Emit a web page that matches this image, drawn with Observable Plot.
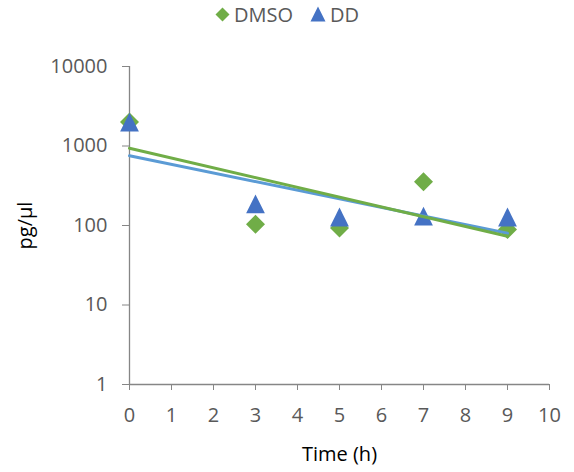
<!DOCTYPE html>
<html><head><meta charset="utf-8">
<script src="https://cdn.jsdelivr.net/npm/d3@7"></script>
<script src="https://cdn.jsdelivr.net/npm/@observablehq/plot@0.6"></script>
<style>
body{margin:0;background:#fff;font-family:"Open Sans",sans-serif;}
#legend{height:28px;display:flex;justify-content:center;align-items:center;gap:17px;font-size:20px;color:#595959;}
.item{display:flex;align-items:center;gap:4px;}
.item svg{display:block;}
</style></head><body>
<div id="legend"></div>
<div id="chart"></div>
<script>
// ---- data ----
const times = [0, 3, 5, 7, 9];
const dmso = [2000, 104, 93, 354, 89];
const dd = [2000, 187, 128, 131, 128];
const seriesNames = ["DMSO", "DD"];
const xTicks = [0, 1, 2, 3, 4, 5, 6, 7, 8, 9, 10];
const yTicks = [1, 10, 100, 1000, 10000];
const markerColors = {DMSO: "#70AD47", DD: "#4472C4"};
const trendColors = {DMSO: "#5B9BD5", DD: "#70AD47"}; // as drawn in the reference

// ---- tables ----
const points = [
  ...times.map((t, i) => ({series: "DMSO", t, v: dmso[i]})),
  ...times.map((t, i) => ({series: "DD", t, v: dd[i]}))
];

// exponential trendline (least squares on ln y)
function expFit(xs, ys) {
  const ly = ys.map(Math.log);
  const mx = d3.mean(xs), my = d3.mean(ly);
  const sxy = d3.sum(xs, (x, i) => (x - mx) * (ly[i] - my));
  const sxx = d3.sum(xs, x => (x - mx) ** 2);
  const b = sxy / sxx, a = my - b * mx;
  return x => Math.exp(a + b * x);
}
const ext = d3.extent(times);
const fitDMSO = expFit(times, dmso), fitDD = expFit(times, dd);
const trendDMSO = ext.map(t => ({t, v: fitDMSO(t)}));
const trendDD = ext.map(t => ({t, v: fitDD(t)}));

// Excel-like symbols (bounding box centred)
const diamondSym = {draw(ctx, size) {const r = Math.sqrt(size / Math.PI); ctx.moveTo(0, -r); ctx.lineTo(r, 0); ctx.lineTo(0, r); ctx.lineTo(-r, 0); ctx.closePath();}};
const triangleSym = {draw(ctx, size) {const r = Math.sqrt(size / Math.PI); ctx.moveTo(0, -r); ctx.lineTo(r, r); ctx.lineTo(-r, r); ctx.closePath();}};

// ---- legend ----
const legend = document.getElementById("legend");
legend.innerHTML = `
<div class="item"><svg width="15" height="15" viewBox="-7.5 -7.5 15 15"><path d="M0,-7L7,0L0,7L-7,0Z" fill="${markerColors.DMSO}"/></svg><span>${seriesNames[0]}</span></div>
<div class="item"><svg width="16" height="16" viewBox="-8 -8 16 16"><path d="M0,-7.5L7.5,7.5L-7.5,7.5Z" fill="${markerColors.DD}"/></svg><span>${seriesNames[1]}</span></div>`;

// ---- chart ----
const axisGray = "#868686", textGray = "#595959";
const chart = Plot.plot({
  width: 574,
  height: 444,
  marginLeft: 129,
  marginRight: 25,
  marginTop: 38,
  marginBottom: 88,
  style: {fontFamily: "'Open Sans', sans-serif", fontSize: "20px", background: "#fff", overflow: "visible"},
  x: {domain: [0, 10]},
  y: {type: "log", domain: [1, 10000]},
  marks: [
    Plot.axisX({ticks: xTicks, tickSize: 6, tickPadding: 17, stroke: axisGray, fill: textGray, label: null, tickFormat: d => String(d)}),
    Plot.axisY({ticks: yTicks, tickSize: 7, tickPadding: 15, stroke: axisGray, fill: textGray, label: null, tickFormat: d => String(d)}),
    Plot.ruleX([0], {stroke: axisGray, strokeWidth: 1.3}),
    Plot.ruleY([1], {stroke: axisGray, strokeWidth: 1.3}),
    Plot.dot(points.filter(d => d.series === "DMSO"), {x: "t", y: "v", r: 9.5, symbol: diamondSym, fill: markerColors.DMSO, stroke: "none"}),
    Plot.dot(points.filter(d => d.series === "DD"), {x: "t", y: "v", r: 9.4, symbol: triangleSym, fill: markerColors.DD, stroke: "none"}),
    Plot.line(trendDMSO, {x: "t", y: "v", stroke: trendColors.DMSO, strokeWidth: 3}),
    Plot.line(trendDD, {x: "t", y: "v", stroke: trendColors.DD, strokeWidth: 3}),
    Plot.text(["Time (h)"], {frameAnchor: "bottom", textAnchor: "middle", lineAnchor: "middle", dy: 70, fill: "#000", fontSize: 20}),
    Plot.text(["pg/µl"], {frameAnchor: "left", textAnchor: "middle", lineAnchor: "middle", dx: -104, rotate: -90, fill: "#000", fontSize: 20})
  ]
});
document.getElementById("chart").appendChild(chart);
</script>
</body></html>
